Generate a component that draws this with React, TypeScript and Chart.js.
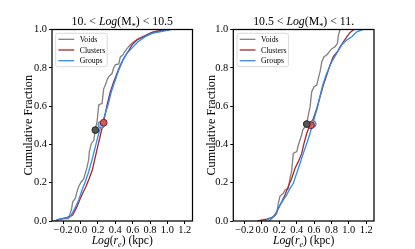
import React, { useEffect, useRef } from "react";
import { Chart, registerables } from "chart.js";
Chart.register(...registerables);

type Pt = [number, number];

const xTickValues = [-0.2, 0, 0.2, 0.4, 0.6, 0.8, 1.0, 1.2];
const yTickValues = [0, 0.2, 0.4, 0.6, 0.8, 1.0];
const seriesNames = ["Voids", "Clusters", "Groups"];

// Panel 1: 10. < Log(M*) < 10.5
const voidsLow: Pt[] = [[-0.3,0],[-0.25,0.008],[-0.17,0.012],[-0.142,0.012],[-0.107,0.057],[-0.091,0.1],[-0.061,0.118],[-0.042,0.153],[-0.022,0.18],[0.008,0.205],[0.036,0.22],[0.054,0.25],[0.074,0.28],[0.093,0.32],[0.1,0.36],[0.123,0.405],[0.151,0.42],[0.163,0.458],[0.172,0.48],[0.18,0.5],[0.19,0.52],[0.209,0.606],[0.247,0.615],[0.266,0.69],[0.285,0.71],[0.305,0.736],[0.324,0.754],[0.362,0.77],[0.382,0.8],[0.4,0.815],[0.44,0.82],[0.458,0.857],[0.486,0.867],[0.509,0.885],[0.535,0.9],[0.573,0.92],[0.612,0.936],[0.67,0.954],[0.746,0.97],[0.824,0.985],[0.95,1.0]];
const clustersLow: Pt[] = [[-0.3,0],[-0.25,0.008],[-0.16,0.018],[-0.12,0.024],[-0.091,0.031],[-0.042,0.075],[-0.011,0.11],[0.024,0.145],[0.062,0.18],[0.1,0.223],[0.135,0.266],[0.17,0.336],[0.197,0.388],[0.224,0.44],[0.25,0.492],[0.266,0.519],[0.305,0.606],[0.343,0.675],[0.382,0.727],[0.42,0.771],[0.458,0.815],[0.497,0.85],[0.547,0.884],[0.593,0.92],[0.65,0.945],[0.728,0.962],[0.824,0.985],[0.99,1.0]];
const groupsLow: Pt[] = [[-0.3,0],[-0.25,0.008],[-0.16,0.018],[-0.119,0.022],[-0.061,0.071],[-0.022,0.11],[0.016,0.162],[0.054,0.205],[0.093,0.257],[0.131,0.318],[0.17,0.388],[0.209,0.458],[0.239,0.503],[0.255,0.519],[0.316,0.606],[0.354,0.675],[0.393,0.727],[0.44,0.788],[0.489,0.84],[0.535,0.876],[0.585,0.9],[0.662,0.936],[0.746,0.962],[0.824,0.98],[1.043,1.0]];
const mediansLow: Pt[] = [[0.17,0.475],[0.266,0.513],[0.239,0.503]];

// Panel 2: 10.5 < Log(M*) < 11.
const voidsHigh: Pt[] = [[0.08,0],[0.13,0.02],[0.17,0.04],[0.188,0.092],[0.208,0.13],[0.246,0.145],[0.265,0.162],[0.303,0.17],[0.323,0.223],[0.343,0.266],[0.361,0.353],[0.4,0.362],[0.419,0.397],[0.458,0.45],[0.469,0.475],[0.496,0.493],[0.516,0.512],[0.534,0.553],[0.554,0.597],[0.573,0.675],[0.6,0.701],[0.631,0.71],[0.649,0.745],[0.669,0.78],[0.689,0.832],[0.715,0.858],[0.746,0.867],[0.776,0.884],[0.804,0.9],[0.842,0.91],[0.869,0.928],[0.88,0.97],[0.9,1.0]];
const clustersHigh: Pt[] = [[-0.05,0],[0.054,0.01],[0.112,0.017],[0.15,0.03],[0.188,0.066],[0.227,0.1],[0.265,0.136],[0.303,0.18],[0.343,0.223],[0.381,0.275],[0.419,0.31],[0.458,0.353],[0.484,0.405],[0.516,0.458],[0.55,0.5],[0.592,0.535],[0.631,0.588],[0.669,0.649],[0.707,0.71],[0.746,0.762],[0.784,0.815],[0.822,0.858],[0.869,0.884],[0.9,0.91],[0.938,0.936],[0.977,0.962],[1.015,0.985],[1.06,1.0]];
const groupsHigh: Pt[] = [[0.03,0],[0.073,0.01],[0.13,0.022],[0.17,0.048],[0.208,0.083],[0.246,0.11],[0.285,0.136],[0.323,0.17],[0.361,0.197],[0.4,0.25],[0.438,0.3],[0.476,0.353],[0.516,0.405],[0.554,0.458],[0.585,0.506],[0.605,0.54],[0.638,0.59],[0.672,0.658],[0.7,0.71],[0.746,0.771],[0.804,0.832],[0.862,0.876],[0.919,0.92],[0.977,0.945],[1.035,0.962],[1.092,0.988],[1.165,1.0]];
const mediansHigh: Pt[] = [[0.516,0.506],[0.565,0.5],[0.585,0.506]];

const FONT = '"Liberation Serif", "DejaVu Serif", serif';
const lineColors = ["#808080", "#b22222", "#1e90ff"];
const markerFill = ["#555555", "#cd5c5c", "#87bff0"];
const markerEdge = ["#222222", "#8b1a1a", "#4a78b0"];

type Seg = { t: string; it?: boolean; sub?: boolean; dy?: number };

function drawRich(ctx: CanvasRenderingContext2D, segs: Seg[], cx: number, baseline: number, size: number) {
  const fontFor = (s: Seg) => `${s.it ? "italic " : ""}${s.sub ? size * 0.7 : size}px ${FONT}`;
  let total = 0;
  for (const s of segs) {
    ctx.font = fontFor(s);
    total += ctx.measureText(s.t).width;
  }
  let x = cx - total / 2;
  ctx.textAlign = "left";
  ctx.textBaseline = "alphabetic";
  ctx.fillStyle = "#000";
  for (const s of segs) {
    ctx.font = fontFor(s);
    ctx.fillText(s.t, x, baseline + (s.dy !== undefined ? s.dy * size : s.sub ? size * 0.22 : 0));
    x += ctx.measureText(s.t).width;
  }
}

const fmt = (v: number) => {
  const r = Math.round(v * 10) / 10;
  return (r < 0 ? "\u2212" : "") + Math.abs(r).toFixed(1);
};

type PanelProps = {
  left: number;
  width: number;
  yAxisWidth: number;
  padRight: number;
  yLabelX: number;
  title: Seg[];
  voids: Pt[];
  clusters: Pt[];
  groups: Pt[];
  medians: Pt[];
};

function Panel(p: PanelProps) {
  const ref = useRef<HTMLCanvasElement | null>(null);
  useEffect(() => {
    const canvas = ref.current!;
    const series = [p.voids, p.clusters, p.groups];
    const lineSets = series.map((s, i) => ({
      label: seriesNames[i],
      data: s.map(([x, y]) => ({ x, y })),
      borderColor: lineColors[i],
      backgroundColor: lineColors[i],
      borderWidth: 1.3,
      pointRadius: 0,
      fill: false,
      tension: 0,
      order: 3 - i,
    }));
    const markerSets = p.medians.map(([x, y], i) => ({
      label: seriesNames[i] + " median",
      data: [{ x, y }],
      showLine: false,
      pointRadius: 3.4,
      pointBackgroundColor: markerFill[i],
      pointBorderColor: markerEdge[i],
      pointBorderWidth: 1,
      borderColor: markerEdge[i],
      order: 0,
    }));
    const overlay = {
      id: "overlay",
      afterDatasetsDraw(chart: any) {
        const ctx: CanvasRenderingContext2D = chart.ctx;
        const a = chart.chartArea;
        ctx.save();
        ctx.strokeStyle = "#000";
        ctx.lineWidth = 1.25;
        ctx.strokeRect(a.left, a.top, a.right - a.left, a.bottom - a.top);
        // legend
        const bx = a.left + 3.7, by = a.top + 3.8, bw = 51.5, bh = 33.4;
        ctx.beginPath();
        (ctx as any).roundRect ? (ctx as any).roundRect(bx, by, bw, bh, 2) : ctx.rect(bx, by, bw, bh);
        ctx.fillStyle = "rgba(255,255,255,0.85)";
        ctx.fill();
        ctx.strokeStyle = "#d0d0d0";
        ctx.lineWidth = 0.8;
        ctx.stroke();
        const rows = [6, 16.7, 27.4];
        ctx.font = `7.8px ${FONT}`;
        ctx.textAlign = "left";
        ctx.textBaseline = "middle";
        rows.forEach((ry, i) => {
          ctx.beginPath();
          ctx.strokeStyle = lineColors[i];
          ctx.lineWidth = 1.3;
          ctx.moveTo(bx + 2.7, by + ry);
          ctx.lineTo(bx + 18.5, by + ry);
          ctx.stroke();
          ctx.fillStyle = "#000";
          ctx.fillText(seriesNames[i], bx + 24, by + ry + 0.5);
        });
        ctx.restore();
      },
      afterDraw(chart: any) {
        const ctx: CanvasRenderingContext2D = chart.ctx;
        const a = chart.chartArea;
        const cx = (a.left + a.right) / 2;
        ctx.save();
        drawRich(ctx, p.title, cx, 24.5, 11.8);
        drawRich(ctx, [
          { t: "Log", it: true },
          { t: "(" },
          { t: "r", it: true },
          { t: "e", it: true, sub: true },
          { t: ")" },
          { t: " (kpc)" },
        ], cx, 244, 11.6);
        ctx.translate(p.yLabelX, (a.top + a.bottom) / 2);
        ctx.rotate(-Math.PI / 2);
        ctx.font = `12.2px ${FONT}`;
        ctx.fillStyle = "#000";
        ctx.textAlign = "center";
        ctx.textBaseline = "middle";
        ctx.fillText("Cumulative Fraction", 0, 0);
        ctx.restore();
      },
    };
    const chart = new Chart(canvas, {
      type: "line",
      data: { datasets: [...markerSets, ...lineSets] as any },
      options: {
        animation: false,
        responsive: false,
        maintainAspectRatio: false,
        layout: { padding: { top: 29.5, right: p.padRight, left: 0, bottom: 0 } },
        plugins: { legend: { display: false }, tooltip: { enabled: false }, title: { display: false } },
        scales: {
          x: {
            type: "linear",
            min: -0.33,
            max: 1.29,
            afterBuildTicks: (s: any) => { s.ticks = xTickValues.map((v) => ({ value: v })); },
            afterFit: (s: any) => { s.height = 28; },
            grid: { drawOnChartArea: false, drawTicks: true, tickLength: 3, tickColor: "#000", tickWidth: 1 },
            border: { display: false },
            ticks: {
              color: "#000",
              font: { family: FONT, size: 10.4 },
              padding: 0,
              maxRotation: 0,
              autoSkip: false,
              callback: (v: any) => fmt(Number(v)),
            },
          },
          y: {
            type: "linear",
            min: 0,
            max: 1,
            afterBuildTicks: (s: any) => { s.ticks = yTickValues.map((v) => ({ value: v })); },
            afterFit: (s: any) => { s.width = p.yAxisWidth; },
            grid: { drawOnChartArea: false, drawTicks: true, tickLength: 3, tickColor: "#000", tickWidth: 1 },
            border: { display: false },
            ticks: {
              color: "#000",
              font: { family: FONT, size: 10.4 },
              padding: 2,
              autoSkip: false,
              callback: (v: any) => fmt(Number(v)),
            },
          },
        },
      },
      plugins: [overlay],
    });
    return () => chart.destroy();
  }, []);
  return (
    <canvas
      ref={ref}
      width={p.width}
      height={249}
      style={{ position: "absolute", left: p.left, top: 0, width: p.width, height: 249 }}
    />
  );
}

const titleLow: Seg[] = [{ t: "10. < " }, { t: "Log", it: true }, { t: "(M" }, { t: "*", sub: true, dy: 0.42 }, { t: ") < 10.5" }];
const titleHigh: Seg[] = [{ t: "10.5 < " }, { t: "Log", it: true }, { t: "(M" }, { t: "*", sub: true, dy: 0.42 }, { t: ") < 11." }];

export default function App() {
  return (
    <div style={{ position: "absolute", left: 0, top: 0, width: 415, height: 249, background: "#fff" }}>
      <Panel left={0} width={200} yAxisWidth={52} padRight={7.5} yLabelX={29} title={titleLow}
        voids={voidsLow} clusters={clustersLow} groups={groupsLow} medians={mediansLow} />
      <Panel left={200} width={215} yAxisWidth={33.3} padRight={41} yLabelX={11.5} title={titleHigh}
        voids={voidsHigh} clusters={clustersHigh} groups={groupsHigh} medians={mediansHigh} />
    </div>
  );
}
